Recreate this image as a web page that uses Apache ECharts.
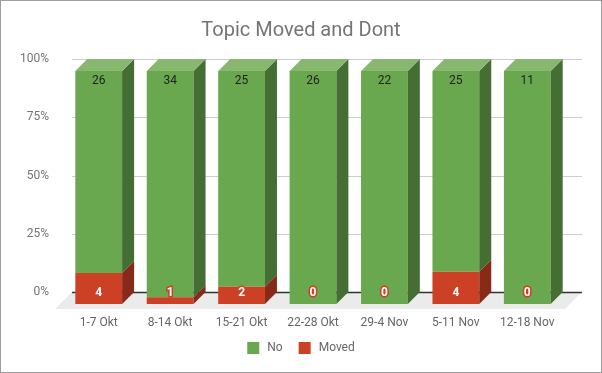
<!DOCTYPE html>
<html>
<head>
<meta charset="utf-8">
<script src="https://cdn.jsdelivr.net/npm/echarts@6/dist/echarts.min.js"></script>
<style>
html,body{margin:0;padding:0;background:#fff;}
#c{width:602px;height:373px;box-sizing:border-box;border:1px solid #9e9e9e;}
</style>
</head>
<body>
<div id="c"></div>
<script>
const categories = ['1-7 Okt', '8-14 Okt', '15-21 Okt', '22-28 Okt', '29-4 Nov', '5-11 Nov', '12-18 Nov'];
const noValues = [26, 34, 25, 26, 22, 25, 11];
const movedValues = [4, 1, 2, 0, 0, 4, 0];
const yTicks = [0, 25, 50, 75, 100];

const COLORS = {
  No: { front: '#6aa84f', side: '#446e33', top: '#88b870' },
  Moved: { front: '#cc4125', side: '#872a19', top: '#d9684f' }
};
const DEPTH = 12;

const movedData = movedValues.map((m, i) => {
  const tot = m + noValues[i];
  return [i, 0, m / tot * 100, m];
});
const noData = noValues.map((n, i) => {
  const tot = n + movedValues[i];
  return [i, movedValues[i] / tot * 100, 100, n];
});

function makeRender(name) {
  const col = COLORS[name];
  return function (params, api) {
    const i = api.value(0), s = api.value(1), e = api.value(2), raw = api.value(3);
    const c0 = api.coord([i, s]);
    const c1 = api.coord([i, e]);
    const bw = api.size([1, 0])[0] * 0.655;
    const fl = c0[0] - bw / 2 - DEPTH;
    const fr = fl + bw;
    const yb = c0[1] + DEPTH;
    const yt = c1[1] + DEPTH;
    const children = [];
    if (yb - yt > 0.01) {
      children.push({ type: 'rect', shape: { x: fl, y: yt, width: bw, height: yb - yt }, style: { fill: col.front } });
      children.push({ type: 'polygon', shape: { points: [[fr, yt], [fr + DEPTH, yt - DEPTH], [fr + DEPTH, yb - DEPTH], [fr, yb]] }, style: { fill: col.side } });
      if (name === 'No') {
        children.push({ type: 'polygon', shape: { points: [[fl, yt], [fl + DEPTH, yt - DEPTH], [fr + DEPTH, yt - DEPTH], [fr, yt]] }, style: { fill: col.top } });
      }
    }
    if (name === 'No') {
      children.push({ type: 'text', z2: 10, style: { text: String(raw), x: (fl + fr) / 2, y: yt + 10, align: 'center', verticalAlign: 'middle', fill: '#222', font: '12px Roboto' } });
    } else {
      children.push({ type: 'text', z2: 10, style: { text: String(raw), x: (fl + fr) / 2, y: yb - 11, align: 'center', verticalAlign: 'middle', fill: '#fff', stroke: '#cc4125', lineWidth: 3, font: 'bold 12px Roboto' } });
    }
    return { type: 'group', children: children };
  };
}

function renderBackground(params, api) {
  const cs = params.coordSys;
  const children = [];
  const y0 = api.coord([0, 0])[1];
  const FL = 17;
  children.push({ type: 'polygon', shape: { points: [[cs.x - 3, y0], [cs.x + cs.width + 7, y0], [cs.x + cs.width + 7 - FL, y0 + FL], [cs.x - 3 - FL, y0 + FL]] }, style: { fill: '#ebebeb' } });
  yTicks.forEach(t => {
    const y = Math.round(api.coord([0, t])[1]) + 0.5;
    children.push({ type: 'line', shape: { x1: cs.x - 3, y1: y, x2: cs.x + cs.width + 7, y2: y }, style: { stroke: t === 0 ? '#333' : '#cccccc', lineWidth: t === 0 ? 1.5 : 1 } });
  });
  return { type: 'group', children: children };
}

const chart = echarts.init(document.getElementById('c'), null, { renderer: 'canvas' });
chart.setOption({
  animation: false,
  textStyle: { fontFamily: 'Roboto' },
  title: {
    text: 'Topic Moved and Dont', left: 'center', top: 15,
    textStyle: { fontSize: 20, fontWeight: 'normal', color: '#757575', fontFamily: 'Roboto' }
  },
  legend: {
    data: ['No', 'Moved'], bottom: 13, left: 'center', icon: 'rect', itemWidth: 12, itemHeight: 12, itemGap: 16,
    textStyle: { color: '#666', fontSize: 12, fontFamily: 'Roboto', padding: [0, 0, 0, 3] }
  },
  grid: { left: 74, right: 26, top: 58, bottom: 80 },
  xAxis: {
    type: 'category', data: categories,
    axisLine: { show: false }, axisTick: { show: false },
    axisLabel: { color: '#666', fontSize: 12, margin: 25, padding: [0, 24, 0, 0], fontFamily: 'Roboto' }
  },
  yAxis: {
    type: 'value', min: 0, max: 100, interval: 25,
    axisLine: { show: false }, axisTick: { show: false }, splitLine: { show: false },
    axisLabel: { color: '#757575', fontSize: 12, margin: 26, formatter: v => v + '%', fontFamily: 'Roboto' }
  },
  series: [
    { type: 'custom', name: 'bg', silent: true, z: 1, data: [[0, 0]], renderItem: renderBackground, legendHoverLink: false },
    { type: 'custom', name: 'Moved', z: 3, itemStyle: { color: '#cc4125' }, data: movedData, renderItem: makeRender('Moved'), encode: { x: 0, y: [1, 2] } },
    { type: 'custom', name: 'No', z: 2, itemStyle: { color: '#6aa84f' }, data: noData, renderItem: makeRender('No'), encode: { x: 0, y: [1, 2] } }
  ]
});
</script>
</body>
</html>
